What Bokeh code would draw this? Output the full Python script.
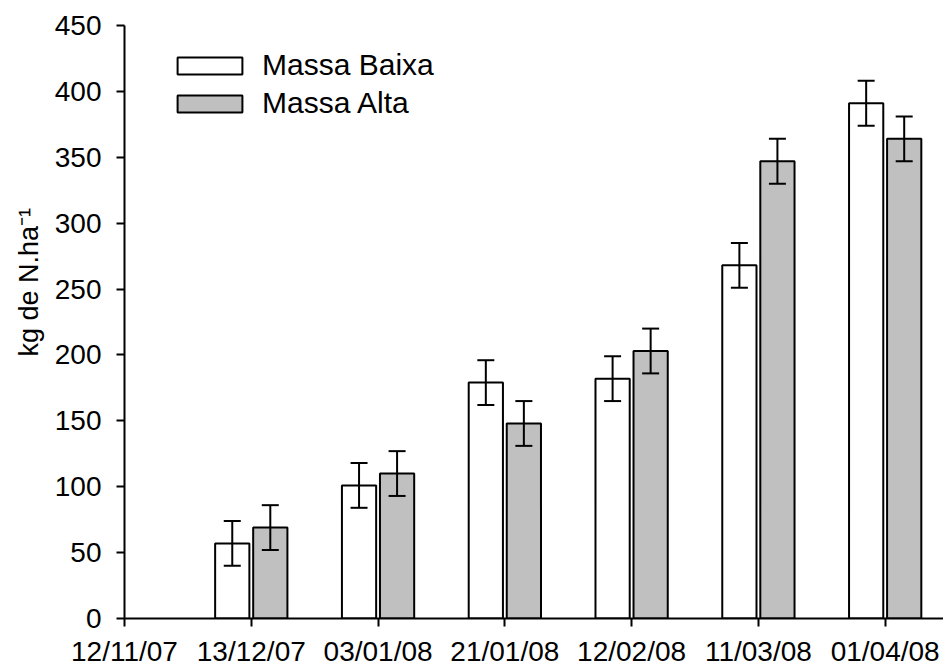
from bokeh.plotting import figure
from bokeh.models import (ColumnDataSource, Whisker, TeeHead, FixedTicker,
                          Legend, LegendItem, Range1d, Title)
from bokeh.embed import file_html
from bokeh.resources import INLINE

# Sampling dates (first date is the start of the experiment, no biomass yet)
dates = ["12/11/07", "13/12/07", "03/01/08", "21/01/08",
         "12/02/08", "11/03/08", "01/04/08"]
sample_dates = dates[1:]

# N accumulated (kg de N/ha) and standard errors
baixa = [57, 101, 179, 182, 268, 391]
alta = [69, 110, 148, 203, 347, 364]
se_baixa = [17, 17, 17, 17, 17, 17]
se_alta = [17, 17, 17, 17, 17, 17]

FONT = "Liberation Sans"
BAR_W = 0.27
SHIFT = 0.15

xpos = [dates.index(d) for d in sample_dates]
x_baixa = [x - SHIFT for x in xpos]
x_alta = [x + SHIFT for x in xpos]

src_baixa = ColumnDataSource(dict(
    x=x_baixa, top=baixa,
    upper=[v + e for v, e in zip(baixa, se_baixa)],
    lower=[v - e for v, e in zip(baixa, se_baixa)]))
src_alta = ColumnDataSource(dict(
    x=x_alta, top=alta,
    upper=[v + e for v, e in zip(alta, se_alta)],
    lower=[v - e for v, e in zip(alta, se_alta)]))

p = figure(width=943, height=669, output_backend="svg", toolbar_location=None,
           x_range=Range1d(0, 6.46), y_range=Range1d(0, 450),
           min_border_left=124, min_border_right=0,
           min_border_top=25, min_border_bottom=50)

p.background_fill_color = "white"
p.border_fill_color = "white"
p.outline_line_color = None
p.xgrid.visible = False
p.ygrid.visible = False

r_baixa = p.vbar(x="x", top="top", width=BAR_W, source=src_baixa,
                 fill_color="white", line_color="black", line_width=2)
r_alta = p.vbar(x="x", top="top", width=BAR_W, source=src_alta,
                fill_color="#c0c0c0", line_color="black", line_width=2)

# Standard-error whiskers drawn over the bars
for src in (src_baixa, src_alta):
    w = Whisker(base="x", upper="upper", lower="lower", source=src,
                level="overlay", line_color="black", line_width=2,
                upper_head=TeeHead(size=17, line_width=2, line_color="black"),
                lower_head=TeeHead(size=17, line_width=2, line_color="black"))
    p.add_layout(w)

# Axes
for ax in (p.xaxis, p.yaxis):
    ax.axis_line_width = 2
    ax.axis_line_color = "black"
    ax.major_tick_line_width = 2
    ax.major_tick_line_color = "black"
    ax.major_tick_in = 0
    ax.major_tick_out = 8
    ax.minor_tick_line_color = None
    ax.major_label_text_font = FONT
    ax.major_label_text_font_size = "28px"
    ax.major_label_text_color = "black"

p.xaxis.ticker = FixedTicker(ticks=list(range(len(dates))))
p.xaxis.major_label_overrides = {i: d for i, d in enumerate(dates)}
p.xaxis.major_label_standoff = 9

p.yaxis.ticker = FixedTicker(ticks=list(range(0, 451, 50)))
p.yaxis.major_label_standoff = 15

# Vertical axis title, placed toward the upper part of the axis
ylab = Title(text="kg de N.ha\u207b\u00b9", align="left", offset=262,
             text_font=FONT, text_font_size="27px", text_font_style="normal",
             text_color="black", standoff=15)
p.add_layout(ylab, "left")

legend = Legend(items=[LegendItem(label="Massa Baixa", renderers=[r_baixa]),
                       LegendItem(label="Massa Alta", renderers=[r_alta])],
                location=(45, 498), orientation="vertical",
                glyph_width=81, glyph_height=21, label_standoff=12,
                label_text_font=FONT, label_text_font_size="30px",
                label_text_color="black",
                label_height=28, spacing=4, padding=0, margin=0,
                border_line_color=None, background_fill_alpha=0)
p.add_layout(legend)

open("out.html", "w").write(file_html(p, INLINE))
